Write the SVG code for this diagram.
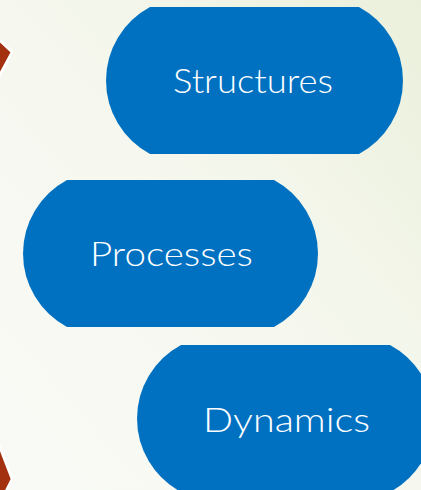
<svg xmlns="http://www.w3.org/2000/svg" width="421" height="490" viewBox="0 0 421 490">
  <defs>
    <linearGradient id="bg" x1="0" y1="1" x2="1" y2="0">
      <stop offset="0" stop-color="#f9faf6"/>
      <stop offset="0.5" stop-color="#f6f8ef"/>
      <stop offset="1" stop-color="#ebf0dc"/>
    </linearGradient>
  </defs>
  <style>
    .pill { fill: #0071C1; }
    .lbl { fill: #ffffff; font-family: Lato, "Liberation Sans", Arial, sans-serif; font-weight: 300; font-size: 34px; text-anchor: middle; }
    .arrow { fill: #A3300E; stroke: #ffffff; stroke-width: 2.5; stroke-linejoin: miter; }
  </style>
  <rect x="0" y="0" width="421" height="490" fill="url(#bg)"/>
  <g id="connectors">
    <polygon class="arrow" points="-3,38 12,52 -3,80"/>
    <polygon class="arrow" points="-3,440 12,479 5,493 -3,493"/>
  </g>
  <g id="structures">
    <path class="pill" d="M150,7 H359 A83.4 83.4 0 0 1 359,154 H150 A83.4 83.4 0 0 1 150,7 Z"/>
    <text class="lbl" x="253" y="93" textLength="160" lengthAdjust="spacingAndGlyphs">Structures</text>
  </g>
  <g id="processes">
    <path class="pill" d="M67,180 H274 A83.4 83.4 0 0 1 274,327 H67 A83.4 83.4 0 0 1 67,180 Z"/>
    <text class="lbl" x="171.5" y="266" textLength="163" lengthAdjust="spacingAndGlyphs">Processes</text>
  </g>
  <g id="dynamics">
    <path class="pill" d="M181,345 H390 A83.4 83.4 0 0 1 390,492 H181 A83.4 83.4 0 0 1 181,345 Z"/>
    <text class="lbl" x="286.5" y="432" textLength="167" lengthAdjust="spacingAndGlyphs">Dynamics</text>
  </g>
</svg>
